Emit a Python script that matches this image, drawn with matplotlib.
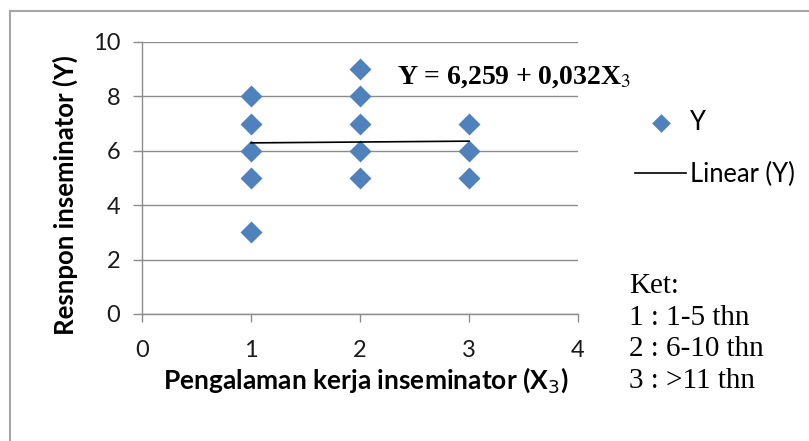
import matplotlib.pyplot as plt
from matplotlib.lines import Line2D

# data
x_pengalaman = [1, 1, 1, 1, 1, 2, 2, 2, 2, 2, 3, 3, 3]
y_respon = [3, 5, 6, 7, 8, 5, 6, 7, 8, 9, 5, 6, 7]
intercept = 6.259
slope = 0.032
trend_x = [1, 3]
ket_lines = ["Ket:", "1 : 1-5 thn", "2 : 6-10 thn", "3 : >11 thn"]

plt.rcParams['font.family'] = ['Lato', 'DejaVu Sans']

W, H = 809, 441
fig = plt.figure(figsize=(W / 100, H / 100), dpi=100)
ax = fig.add_axes([142 / W, 1 - 314 / H, 436 / W, 272 / H])

grid_c = "#8c8c8c"
ax.set_xlim(0, 4)
ax.set_ylim(0, 10)
ax.set_xticks(range(0, 5))
ax.set_yticks(range(0, 11, 2))
ax.yaxis.grid(True, color=grid_c, linewidth=1.0)
ax.set_axisbelow(True)
for s in ["top", "right"]:
    ax.spines[s].set_visible(False)
for s in ["left", "bottom"]:
    ax.spines[s].set_color(grid_c)
    ax.spines[s].set_linewidth(1.0)
ax.tick_params(axis="both", colors=grid_c, labelcolor="#1a1a1a", labelsize=17,
               width=1.0)
ax.tick_params(axis="x", length=5.5, pad=13)
ax.tick_params(axis="y", length=6.5, pad=9)

ax.scatter(x_pengalaman, y_respon, marker="D", s=125, color="#4f81bd",
           linewidths=0, zorder=3, label="Y")
trend_y = [intercept + slope * v for v in trend_x]
ax.plot(trend_x, trend_y, color="black", linewidth=1.2, zorder=4, label="Linear (Y)")

ax.set_xlabel("Pengalaman kerja inseminator (X$_3$)", fontsize=19, fontweight="bold")
ax.xaxis.set_label_coords((366 - 142) / 436, (314 - 380) / 272)
ax.xaxis.label.set_va("center")
ax.set_ylabel("Resnpon inseminator (Y)", fontsize=18.5, fontweight="bold")
ax.yaxis.set_label_coords((65 - 142) / 436, (314 - 195) / 272)
ax.yaxis.label.set_va("center")

ax.text(2.34, 8.7, "Y = 6,259 + 0,032X$_3$", fontsize=20, fontweight="bold",
        family="Liberation Serif", va="center", ha="left",
        math_fontfamily="stix")

leg = ax.legend(loc="upper left", bbox_to_anchor=(612 / W, 1 - 87 / H),
                bbox_transform=fig.transFigure, frameon=False, markerscale=0.85,
                fontsize=18.4, handlelength=2.0, labelspacing=1.05, handletextpad=0.15)

for i, line in enumerate(ket_lines):
    fig.text(629 / W, 1 - (286 + 31.7 * i) / H, line, family="Liberation Serif",
             fontsize=21, va="center", ha="left")

# outer frame (only top and left edges are visible)
fig.add_artist(Line2D([10 / W, 10 / W], [0, 1 - 10.5 / H], transform=fig.transFigure,
                      color="#a6a6a6", linewidth=1.5))
fig.add_artist(Line2D([10 / W, 1.0], [1 - 10.5 / H, 1 - 10.5 / H],
                      transform=fig.transFigure, color="#a6a6a6", linewidth=1.5))

fig.savefig("out.png", dpi=100)
